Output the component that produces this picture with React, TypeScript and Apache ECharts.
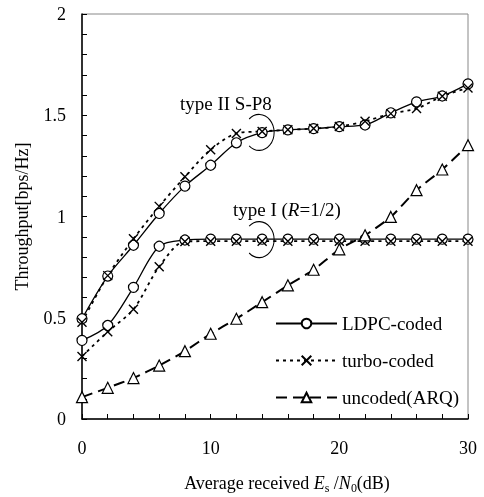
import React, { useEffect, useRef } from 'react';
import * as echarts from 'echarts';

const xValues = [0, 2, 4, 6, 8, 10, 12, 14, 16, 18, 20, 22, 24, 26, 28, 30];
const ldpcTypeII = [0.495, 0.706, 0.858, 1.015, 1.15, 1.253, 1.364, 1.414, 1.428, 1.434, 1.444, 1.452, 1.512, 1.566, 1.595, 1.655];
const turboTypeII = [0.478, 0.708, 0.89, 1.05, 1.196, 1.33, 1.41, 1.42, 1.428, 1.434, 1.444, 1.47, 1.508, 1.533, 1.594, 1.635];
const ldpcTypeI = [0.388, 0.462, 0.65, 0.853, 0.884, 0.888, 0.888, 0.888, 0.888, 0.888, 0.888, 0.888, 0.888, 0.888, 0.888, 0.888];
const turboTypeI = [0.309, 0.431, 0.542, 0.752, 0.877, 0.878, 0.878, 0.878, 0.878, 0.878, 0.878, 0.878, 0.878, 0.878, 0.878, 0.878];
const uncoded = [0.108, 0.154, 0.202, 0.264, 0.335, 0.421, 0.495, 0.577, 0.66, 0.737, 0.838, 0.907, 0.998, 1.13, 1.232, 1.352];
const legendNames = ['LDPC-coded', 'turbo-coded', 'uncoded(ARQ)'];

const FONT = 'Liberation Serif';

export default function App() {
  const ref = useRef<HTMLDivElement>(null);
  useEffect(() => {
    const chart = echarts.init(ref.current!, null, { renderer: 'svg' });
    const pairs = (ys: number[]) => xValues.map((x, i) => [x, ys[i]]);
    const cross = 'path://M0,0L10,10M10,0L0,10';

    const ldpc = (data: number[]) => ({
      type: 'line',
      name: legendNames[0],
      data: pairs(data),
      smooth: 0.3,
      symbol: 'circle',
      symbolSize: 10,
      lineStyle: { color: '#000', width: 1.3, type: 'solid' },
      itemStyle: { color: '#fff', borderColor: '#000', borderWidth: 1.2 },
    });
    const turbo = (data: number[]) => ({
      type: 'line',
      name: legendNames[1],
      data: pairs(data),
      smooth: 0.3,
      symbol: cross,
      symbolSize: 9,
      lineStyle: { color: '#000', width: 1.8, type: [3, 4] },
      itemStyle: { color: 'none', borderColor: '#000', borderWidth: 1.4 },
    });

    const axisText = { fontFamily: FONT, fontSize: 18, color: '#000' };

    chart.setOption({
      animation: false,
      grid: {
        left: 82, top: 14, width: 386, height: 405,
        outerBoundsMode: 'none', containLabel: false,
        show: true, borderColor: '#888', borderWidth: 1,
      },
      xAxis: {
        type: 'value', min: 0, max: 30, interval: 10,
        axisLine: { show: true, lineStyle: { color: '#000', width: 1.5 } },
        axisTick: { show: true, inside: true, length: 5, lineStyle: { color: '#000', width: 1 } },
        minorTick: { show: true, splitNumber: 5, length: 5, lineStyle: { color: '#000', width: 1 } },
        splitLine: { show: false },
        axisLabel: { ...axisText, margin: 20 },
        name: '{a|Average received }{i|E}{sub|s}{a| /}{i|N}{sub|0}{a|(dB)}',
        nameLocation: 'middle',
        nameGap: 53,
        nameTextStyle: {
          ...axisText,
          padding: [0, 0, 0, 24],
          rich: {
            a: { fontFamily: FONT, fontSize: 18, color: '#000', lineHeight: 22 },
            i: { fontFamily: FONT, fontSize: 18, color: '#000', fontStyle: 'italic', lineHeight: 22 },
            sub: { fontFamily: FONT, fontSize: 12, color: '#000', verticalAlign: 'bottom', lineHeight: 12 },
          },
        },
      },
      yAxis: {
        type: 'value', min: 0, max: 2, interval: 0.5,
        axisLine: { show: true, lineStyle: { color: '#000', width: 1.5 } },
        axisTick: { show: true, inside: true, length: 5, lineStyle: { color: '#000', width: 1 } },
        minorTick: { show: true, splitNumber: 5, length: 5, lineStyle: { color: '#000', width: 1 } },
        splitLine: { show: false },
        axisLabel: { ...axisText, margin: 16 },
        name: 'Throughput[bps/Hz]',
        nameLocation: 'middle',
        nameGap: 51,
        nameTextStyle: { ...axisText },
      },
      legend: {
        data: legendNames,
        orient: 'vertical',
        left: 270,
        top: 309,
        itemWidth: 61,
        itemHeight: 12,
        itemGap: 18,
        textStyle: { ...axisText, fontSize: 19 },
      },
      series: [
        ldpc(ldpcTypeII),
        ldpc(ldpcTypeI),
        turbo(turboTypeII),
        turbo(turboTypeI),
        {
          type: 'line',
          name: legendNames[2],
          data: pairs(uncoded),
          smooth: 0.2,
          symbol: 'triangle',
          symbolSize: 11,
          lineStyle: { color: '#000', width: 2, type: [11, 6] },
          itemStyle: { color: '#fff', borderColor: '#000', borderWidth: 1.2 },
        },
      ],
    });

    const c2 = chart.convertToPixel({ gridIndex: 0 }, [14, 1.415]) as number[];
    const c1 = chart.convertToPixel({ gridIndex: 0 }, [14, 0.886]) as number[];
    const arc = (c: number[]) => ({
      type: 'arc',
      x: c[0] - 3,
      y: c[1],
      scaleX: 15 / 18,
      shape: { cx: 0, cy: 0, r: 18, startAngle: -2.3, endAngle: 2.3, clockwise: true },
      style: { stroke: '#000', lineWidth: 1.2, fill: 'none', strokeNoScale: true },
      silent: true,
    });
    const rich = {
      n: { fontFamily: FONT, fontSize: 19, fill: '#000' },
      it: { fontFamily: FONT, fontSize: 19, fill: '#000', fontStyle: 'italic' },
    };
    chart.setOption({
      graphic: [
        arc(c2),
        arc(c1),
        {
          type: 'text', x: 180, y: 103,
          style: { text: '{n|type II S-P8}', rich, verticalAlign: 'middle', fontFamily: FONT, fontSize: 19, fill: '#000' },
        },
        {
          type: 'text', x: 233, y: 209,
          style: { text: '{n|type I (}{it|R}{n|=1/2)}', rich, verticalAlign: 'middle', fontFamily: FONT, fontSize: 19, fill: '#000' },
        },
      ],
    });

    return () => chart.dispose();
  }, []);
  return <div ref={ref} style={{ position: 'fixed', left: 0, top: 0, width: 484, height: 497 }} />;
}
